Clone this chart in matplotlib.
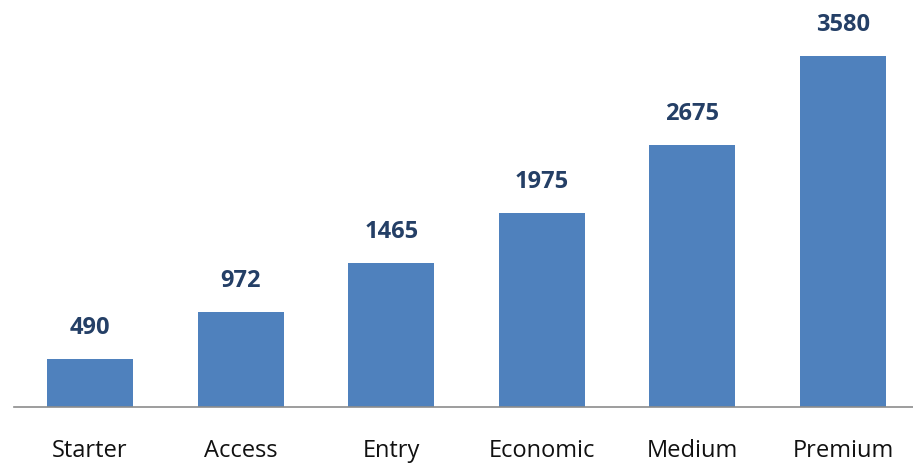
import matplotlib
matplotlib.use("Agg")
import matplotlib.pyplot as plt

categories = ["Starter", "Access", "Entry", "Economic", "Medium", "Premium"]
values = [490, 972, 1465, 1975, 2675, 3580]

bar_color = "#4F81BD"
label_color = "#243F66"

fig = plt.figure(figsize=(9.13, 4.64), dpi=100)
ax = fig.add_axes([14/913, 56/464, 899/913, 408/464])

x = list(range(len(categories)))
bars = ax.bar(x, values, width=0.571, color=bar_color, zorder=2)

ax.set_xlim(-0.505, 5.465)
ax.set_ylim(0, 4161)

for xi, v in zip(x, values):
    ax.annotate(str(v), (xi, v), xytext=(0, 14.5), textcoords="offset points",
                ha="center", va="bottom", fontsize=17, fontweight="bold",
                color=label_color, family=["Open Sans", "DejaVu Sans"])

for s in ["top", "right", "left"]:
    ax.spines[s].set_visible(False)
ax.spines["bottom"].set_color("#8C8C8C")
ax.spines["bottom"].set_linewidth(1.2)
ax.set_yticks([])
ax.set_xticks(x)
ax.set_xticklabels(categories, fontsize=17, family=["Open Sans", "DejaVu Sans"], color="#111111")
ax.tick_params(axis="x", length=0, pad=22)

fig.savefig("out.png", dpi=100)
